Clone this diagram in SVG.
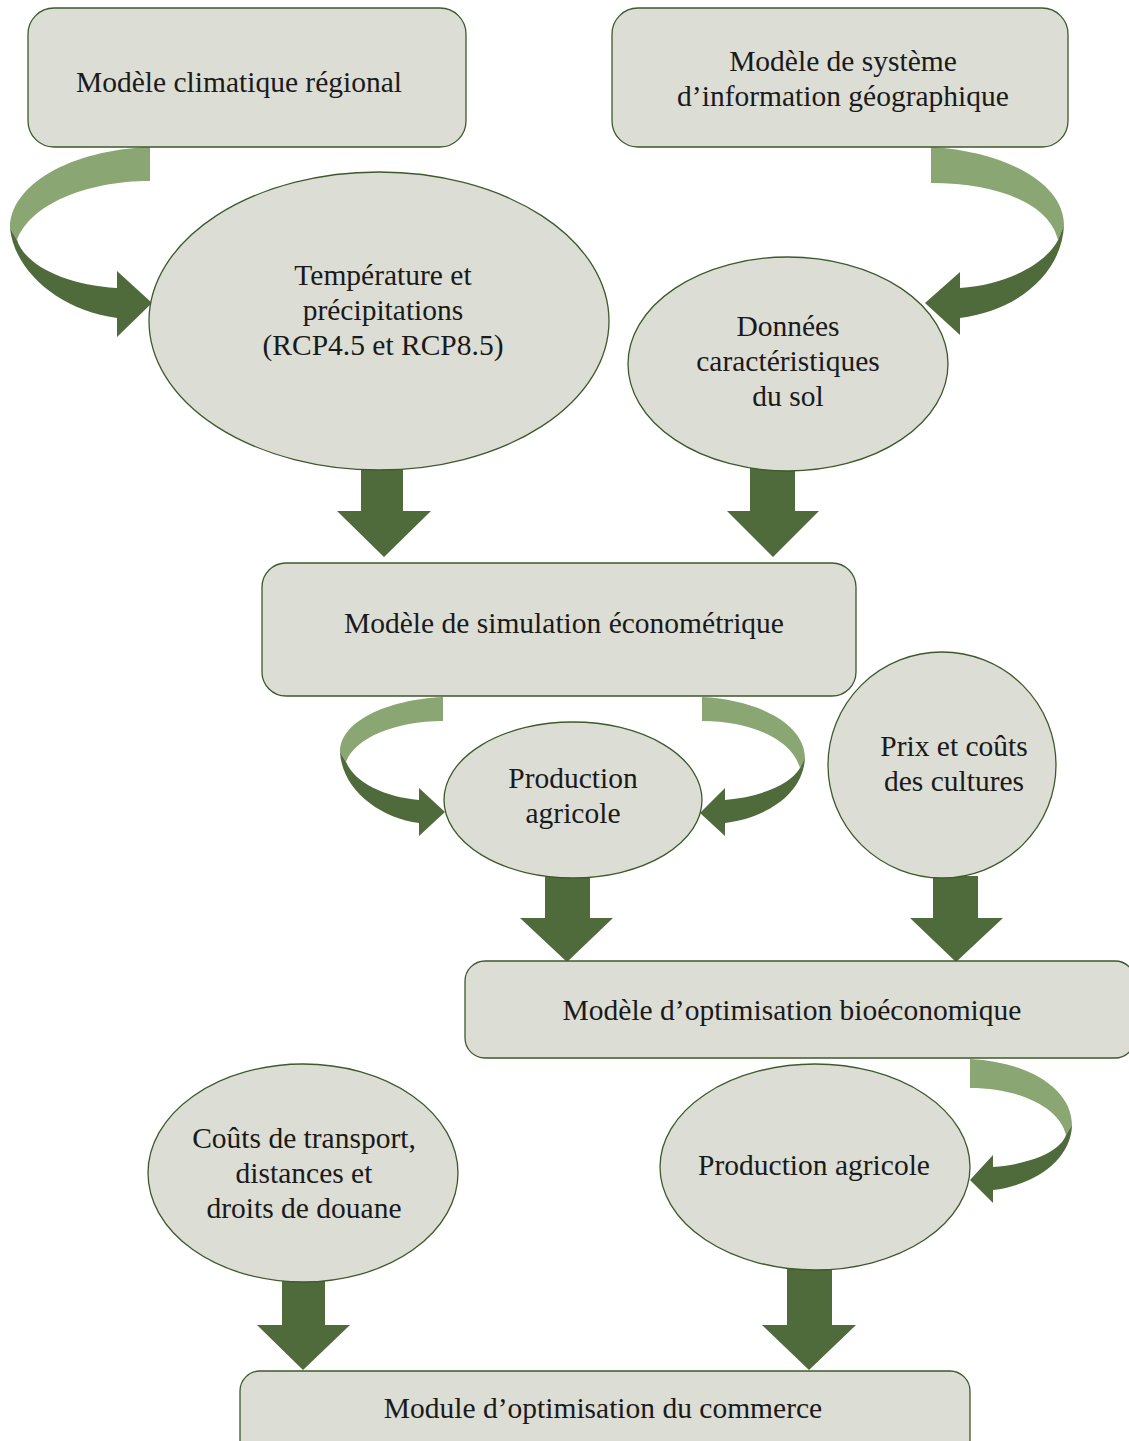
<svg xmlns="http://www.w3.org/2000/svg" width="1129" height="1441" viewBox="0 0 1129 1441">
<style>
.node{fill:#dcddd5;stroke:#3d5a2a;stroke-width:1.3}
.t{font-family:"Liberation Serif","DejaVu Serif",serif;font-size:29.5px;fill:#1a1a1a;text-anchor:middle}
.lt{fill:#8aa672}
.dk{fill:#4f6b3c}
</style>
<rect width="1129" height="1441" fill="#ffffff"/>
<g id="connectors">
<path class="lt" d="M150,147 C70,150 10,185 10,228 L17,240 C30,205 85,181 150,181 Z"/>
<path class="dk" d="M10,228 C14,270 58,310 117,318 L117,337 L152,303 L117,271 L117,288 C65,285 25,265 17,240 Z"/>
<path class="lt" d="M931,147 C1010,152 1064,185 1064,225 L1058,240 C1050,205 1000,183 931,183 Z"/>
<path class="dk" d="M1064,225 C1062,272 1020,310 960,318 L960,335 L925,303 L960,272 L960,288 C1005,285 1045,265 1058,240 Z"/>
<path class="lt" d="M443,697 C385,700 340,722 340,752 L346,762 C355,738 395,721 443,721 Z"/>
<path class="dk" d="M340,752 C342,790 380,818 419,823 L419,836 L445,812 L419,788 L419,800 C385,797 355,783 346,762 Z"/>
<path class="lt" d="M702,697 C760,700 805,725 805,758 L800,768 C792,740 752,721 702,721 Z"/>
<path class="dk" d="M805,758 C803,795 765,818 725,823 L725,836 L700,813 L725,788 L725,800 C760,797 790,785 800,768 Z"/>
<path class="lt" d="M970,1059 C1030,1062 1072,1090 1072,1125 L1066,1135 C1060,1108 1020,1088 970,1088 Z"/>
<path class="dk" d="M1072,1125 C1071,1160 1035,1185 993,1190 L993,1203 L970,1180 L993,1155 L993,1167 C1030,1164 1060,1152 1066,1135 Z"/>
<polygon class="dk" points="361,468 403,468 403,511 431,511 384,557 337,511 361,511"/>
<polygon class="dk" points="750,468 795,468 795,511 819,511 773,557 727,511 750,511"/>
<polygon class="dk" points="545,876 590,876 590,918 613,918 567,962 520,918 545,918"/>
<polygon class="dk" points="933,876 978,876 978,918 1003,918 956,962 910,918 933,918"/>
<polygon class="dk" points="282,1280 325,1280 325,1325 350,1325 303,1370 257,1325 282,1325"/>
<polygon class="dk" points="787,1268 832,1268 832,1325 856,1325 809,1370 762,1325 787,1325"/>
</g>
<g id="n1"><rect class="node" x="28" y="8" width="438" height="139" rx="26"/><text class="t" x="239" y="92">Modèle climatique régional</text></g>
<g id="n2"><rect class="node" x="612" y="8" width="456" height="139" rx="26"/><text class="t" x="843" y="71">Modèle de système</text><text class="t" x="843" y="106">d’information géographique</text></g>
<g id="n3"><ellipse class="node" cx="379" cy="321" rx="230" ry="149"/><text class="t" x="383" y="285">Température et</text><text class="t" x="383" y="320">précipitations</text><text class="t" x="383" y="355">(RCP4.5 et RCP8.5)</text></g>
<g id="n4"><ellipse class="node" cx="788" cy="364" rx="160" ry="107"/><text class="t" x="788" y="336">Données</text><text class="t" x="788" y="371">caractéristiques</text><text class="t" x="788" y="406">du sol</text></g>
<g id="n5"><rect class="node" x="262" y="563" width="594" height="133" rx="24"/><text class="t" x="564" y="633">Modèle de simulation économétrique</text></g>
<g id="n6"><ellipse class="node" cx="573" cy="800" rx="129" ry="78"/><text class="t" x="573" y="788">Production</text><text class="t" x="573" y="823">agricole</text></g>
<g id="n7"><ellipse class="node" cx="942" cy="765" rx="114" ry="113"/><text class="t" x="954" y="756">Prix et coûts</text><text class="t" x="954" y="791">des cultures</text></g>
<g id="n8"><rect class="node" x="465" y="961" width="670" height="97" rx="20"/><text class="t" x="792" y="1020">Modèle d’optimisation bioéconomique</text></g>
<g id="n9"><ellipse class="node" cx="303" cy="1173" rx="155" ry="109"/><text class="t" x="304" y="1148">Coûts de transport,</text><text class="t" x="304" y="1183">distances et</text><text class="t" x="304" y="1218">droits de douane</text></g>
<g id="n10"><ellipse class="node" cx="815" cy="1167" rx="155" ry="103"/><text class="t" x="814" y="1175">Production agricole</text></g>
<g id="n11"><rect class="node" x="240" y="1371" width="730" height="90" rx="20"/><text class="t" x="603" y="1418">Module d’optimisation du commerce</text></g>
</svg>
